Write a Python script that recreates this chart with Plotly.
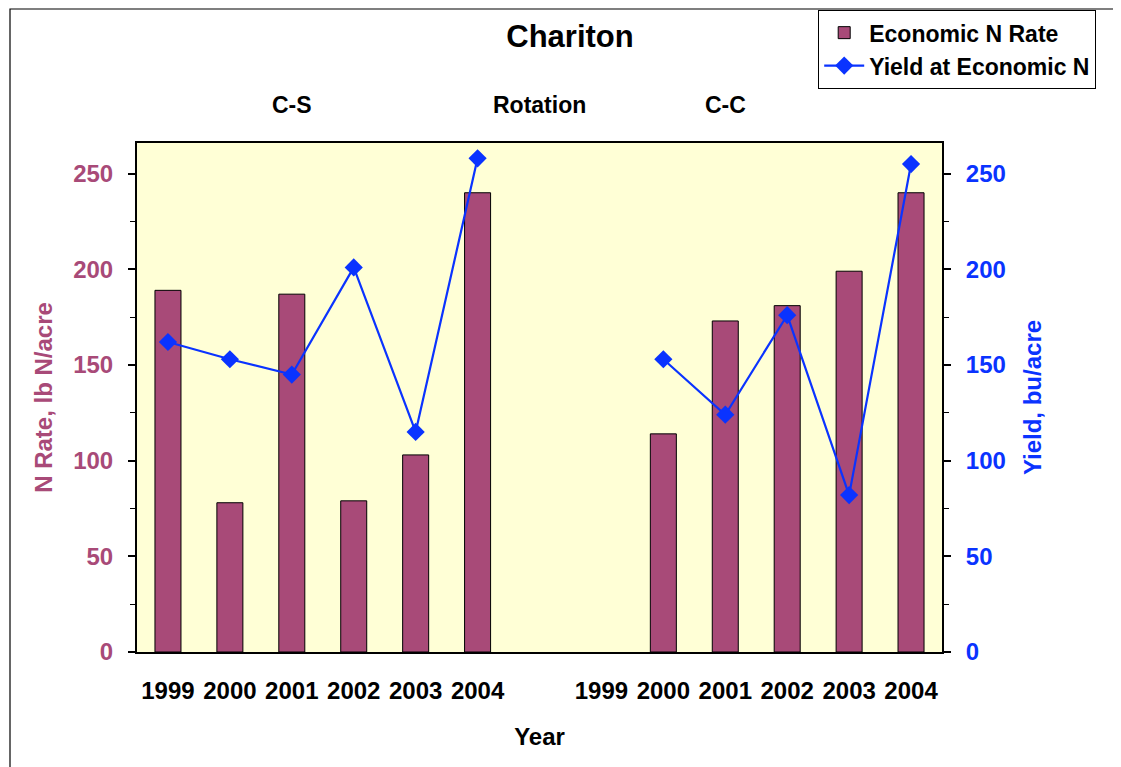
import plotly.graph_objects as go

# ---- data ----
year_labels = ["1999", "2000", "2001", "2002", "2003", "2004", "",
               "1999", "2000", "2001", "2002", "2003", "2004"]
n_rate = [189, 78, 187, 79, 103, 240, None,
          None, 114, 173, 181, 199, 240]
yield_econ = [162, 153, 145, 201, 115, 258, None,
              None, 153, 124, 176, 82, 255]
group_labels = ["C-S", "Rotation", "C-C"]
group_pos = [2, 6, 9]

x_pos = list(range(len(year_labels)))

BAR = "#A84A78"
BLUE = "#0A33FF"
FONT = "Arial, Liberation Sans, sans-serif"

# page body adds an 8px offset; layout numbers below are figure coordinates
OFF = 8
L, T = 137 - OFF, 143 - OFF
PW, PH = 805, 509
W, H = 1121, 767

fig = go.Figure()
fig.add_trace(go.Bar(
    x=x_pos, y=n_rate, name="Economic N Rate", width=0.42,
    marker=dict(color=BAR, line=dict(color="#000000", width=1)),
    yaxis="y",
))
fig.add_trace(go.Scatter(
    x=x_pos, y=yield_econ, name="Yield at Economic N", mode="lines+markers",
    line=dict(color=BLUE, width=2.2), connectgaps=False,
    marker=dict(symbol="diamond", size=14, color=BLUE),
    yaxis="y2",
))

for txt, p in zip(group_labels, group_pos):
    fig.add_annotation(x=p, y=1.075, xref="x", yref="paper", text="<b>%s</b>" % txt,
                       showarrow=False, font=dict(size=23, color="black", family=FONT),
                       xanchor="center", yanchor="middle")

# outer border of the chart area
fig.add_shape(type="rect", xref="paper", yref="paper",
              x0=(2 - L) / PW, x1=(W + 2 - L) / PW,
              y0=(T + PH - (H + 2)) / PH, y1=(T + PH - 1) / PH,
              line=dict(color="black", width=1.2), layer="below")

fig.update_layout(
    width=W, height=H,
    margin=dict(l=L, r=W - L - PW, t=T, b=H - T - PH, autoexpand=False),
    paper_bgcolor="white", plot_bgcolor="#FFFFD6",
    font=dict(family=FONT, size=24, color="black"),
    title=dict(text="<b>Chariton</b>", x=(570 - OFF) / W, xanchor="center",
               y=1 - (36 - OFF) / H, yanchor="middle", font=dict(size=31, color="black")),
    showlegend=True,
    legend=dict(x=(818 - OFF - L) / PW, y=(T + PH - 2) / PH, xanchor="left", yanchor="top",
                bgcolor="white", bordercolor="black", borderwidth=1.2,
                font=dict(size=23, color="black", family=FONT, weight="bold"),
                itemwidth=40, tracegroupgap=0),
    bargap=0.5,
    xaxis=dict(
        range=[-0.5, len(year_labels) - 0.5], tickmode="array",
        tickvals=x_pos, ticktext=["<b>%s</b>" % t for t in year_labels],
        ticks="", ticklabelstandoff=16, tickfont=dict(size=24, color="black"),
        showgrid=False, zeroline=False,
        showline=True, linecolor="black", linewidth=2, mirror=True,
        title=dict(text="<b>Year</b>", font=dict(size=24, color="black"), standoff=25),
    ),
    yaxis=dict(
        range=[0, 266], tickmode="linear", tick0=0, dtick=50,
        ticks="outside", ticklen=7, tickcolor="black", tickwidth=1.5,
        minor=dict(dtick=25, ticks="outside", ticklen=5, tickcolor="black", tickwidth=1),
        ticklabelstandoff=10,
        tickfont=dict(size=24, color=BAR, weight="bold"),
        showgrid=False, zeroline=False,
        showline=True, linecolor="black", linewidth=2,
        title=dict(text="<b>N Rate, lb N/acre</b>", font=dict(size=24, color=BAR), standoff=14),
    ),
    yaxis2=dict(
        range=[0, 266], overlaying="y", side="right",
        tickmode="linear", tick0=0, dtick=50,
        ticks="outside", ticklen=7, tickcolor="black", tickwidth=1.5,
        minor=dict(dtick=25, ticks="outside", ticklen=5, tickcolor="black", tickwidth=1),
        ticklabelstandoff=10,
        tickfont=dict(size=24, color=BLUE, weight="bold"),
        showgrid=False, zeroline=False,
        showline=True, linecolor="black", linewidth=2,
        title=dict(text="<b>Yield, bu/acre</b>", font=dict(size=24, color=BLUE), standoff=19),
    ),
)

fig.write_html("out.html")
